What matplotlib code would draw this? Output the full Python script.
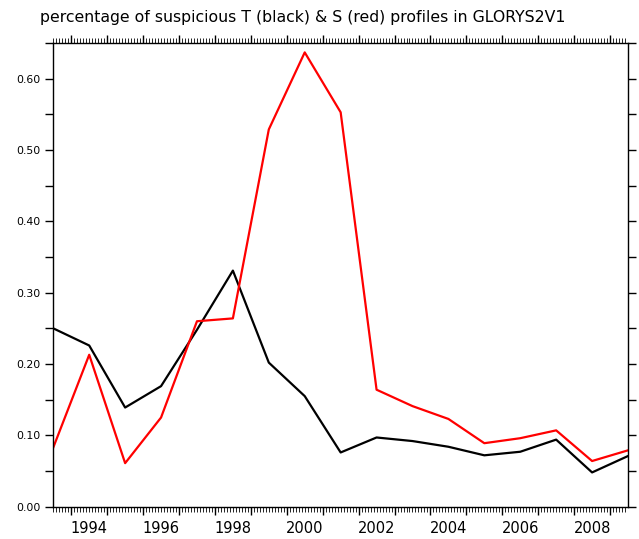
import numpy as np
import matplotlib.pyplot as plt
from matplotlib.ticker import FixedLocator, MultipleLocator, NullFormatter

# annual values, plotted at mid-year
years = np.arange(1993, 2010)
temp_pct = [0.250, 0.226, 0.139, 0.169, 0.248, 0.331, 0.202, 0.155, 0.076,
            0.097, 0.092, 0.084, 0.072, 0.077, 0.094, 0.048, 0.071]
sal_pct = [0.083, 0.213, 0.061, 0.125, 0.260, 0.264, 0.529, 0.637, 0.553,
           0.164, 0.141, 0.123, 0.089, 0.096, 0.107, 0.064, 0.079]
label_years = [1994, 1996, 1998, 2000, 2002, 2004, 2006, 2008]

fig = plt.figure(figsize=(6.39, 5.39), dpi=100)
ax = fig.add_axes([0.0834, 0.060, 0.8994, 0.860])

x = years + 0.5
ax.plot(x, temp_pct, color='black', lw=1.6)
ax.plot(x, sal_pct, color='red', lw=1.6)

ax.set_xlim(1993.5, 2009.5)
ax.set_ylim(0, 0.65)

# x axis: yearly major ticks, monthly minor ticks, labels at mid-year
ax.xaxis.set_major_locator(FixedLocator(np.arange(1994, 2010)))
ax.xaxis.set_minor_locator(FixedLocator(np.arange(1993.5, 2009.5, 1 / 12)))
ax.xaxis.set_major_formatter(NullFormatter())
ax.tick_params(axis='x', which='major', direction='out', length=6, width=1,
               top=True, bottom=True)
ax.tick_params(axis='x', which='minor', direction='out', length=3.5, width=0.6,
               top=True, bottom=True)
for yr in label_years:
    ax.text(yr + 0.5, -0.031, str(yr), ha='center', va='center', fontsize=10.5)

# y axis
ax.yaxis.set_major_locator(MultipleLocator(0.1))
ax.yaxis.set_minor_locator(MultipleLocator(0.05))
ax.yaxis.set_major_formatter(plt.FormatStrFormatter('%.2f'))
ax.tick_params(axis='y', which='both', direction='out', length=6, width=1,
               left=True, right=True, labelsize=7.8, pad=3)

for s in ax.spines.values():
    s.set_linewidth(1)

fig.text(0.063, 0.968, 'percentage of suspicious T (black) & S (red) profiles in GLORYS2V1',
         ha='left', va='center', fontsize=11.3)

fig.savefig('out.png', dpi=100)
